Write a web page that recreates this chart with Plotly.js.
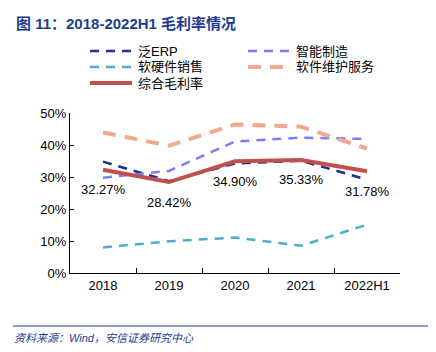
<!DOCTYPE html>
<html><head><meta charset="utf-8">
<script src="https://cdn.plot.ly/plotly-3.0.1.min.js"></script>
<style>body{margin:0;background:#fff}#c{width:436px;height:352px}</style>
</head><body><div id="c"></div>
<script>
const categories = ['2018','2019','2020','2021','2022H1'];
const erp = [34.8, 28.7, 34.2, 35.1, 29.2];
const smartMfg = [29.8, 31.9, 41.1, 42.3, 41.9];
const hwSales = [8.0, 9.9, 11.1, 8.5, 15.1];
const maintenance = [43.9, 39.8, 46.4, 45.7, 38.9];
const overall = [32.27, 28.42, 34.90, 35.33, 31.78];
const overallLabels = ['32.27%','28.42%','34.90%','35.33%','31.78%'];
const seriesNames = ['泛ERP','智能制造','软硬件销售','软件维护服务','综合毛利率'];
const yTicks = [0,10,20,30,40,50];
const yTickText = ['0%','10%','20%','30%','40%','50%'];

const cjk = '"Liberation Sans", Arial, "Noto Sans CJK SC", sans-serif';
const styles = [
  {color:'#1F2F8C', width:2.5, dash:'9px,7px'},
  {color:'#7C7CFF', width:2.5, dash:'9px,7px'},
  {color:'#4BAFC8', width:2.5, dash:'9px,7px'},
  {color:'#F0A98C', width:4, dash:'13px,9px'},
  {color:'#C0504D', width:4, dash:'solid'}
];
const values = [erp, smartMfg, hwSales, maintenance, overall];
const traces = values.map((v,i)=>({x:categories, y:v, name:seriesNames[i], mode:'lines', line:styles[i], showlegend:false}));

// plot area: x 70..400, y 113..273 (px)
const px = x => (x-70)/330;
const py = y => (273-y)/160;

const annotations = categories.map((c,i)=>({x:i, y:overall[i], text:overallLabels[i], showarrow:false, yshift:-20, font:{size:13, color:'#000', family:cjk}}));
annotations.push({xref:'paper', yref:'paper', x:px(14), y:py(23), xanchor:'left', yanchor:'middle', showarrow:false,
  text:'<b>图 11：2018-2022H1 毛利率情况</b>', font:{size:15, color:'#1F3D8F', family:cjk}});
annotations.push({xref:'paper', yref:'paper', x:px(12), y:py(338), xanchor:'left', yanchor:'middle', showarrow:false,
  text:'<i>资料来源：Wind，安信证券研究中心</i>', font:{size:11, color:'#1F3D8F', family:cjk}});

const shapes = [{type:'line', xref:'paper', yref:'paper', x0:px(13), x1:px(428), y0:py(326), y1:py(326),
    line:{color:'#1F3D8F', width:1.2}}];

// manual legend (2 columns)
const legPos = [[90,51],[248,51],[90,67],[248,67],[90,83]];
seriesNames.forEach((n,i)=>{
  const [lx,ly] = legPos[i];
  shapes.push({type:'line', xref:'paper', yref:'paper', x0:px(lx), x1:px(lx+42), y0:py(ly), y1:py(ly), line:styles[i]});
  annotations.push({xref:'paper', yref:'paper', x:px(lx+46), y:py(ly), xanchor:'left', yanchor:'middle', showarrow:false,
    text:n, font:{size:13, color:'#000', family:cjk}});
});

const layout = {
  width:436, height:352,
  margin:{l:70, r:36, t:113, b:79},
  paper_bgcolor:'#fff', plot_bgcolor:'#fff',
  font:{family:cjk, size:13, color:'#000'},
  showlegend:false,
  xaxis:{type:'category', range:[-0.5,4.5], showline:true, linecolor:'#000', linewidth:1, ticks:'inside', ticklen:5,
    tickson:'boundaries', tickcolor:'#000', showgrid:false, zeroline:false, tickfont:{size:13}},
  yaxis:{range:[0,50], tickvals:yTicks, ticktext:yTickText, showline:true, linecolor:'#000', linewidth:1,
    ticks:'inside', ticklen:4, tickcolor:'#000', showgrid:false, zeroline:false, tickfont:{size:13}},
  annotations:annotations,
  shapes:shapes
};
Plotly.newPlot('c', traces, layout, {displayModeBar:false, staticPlot:true});
</script></body></html>
